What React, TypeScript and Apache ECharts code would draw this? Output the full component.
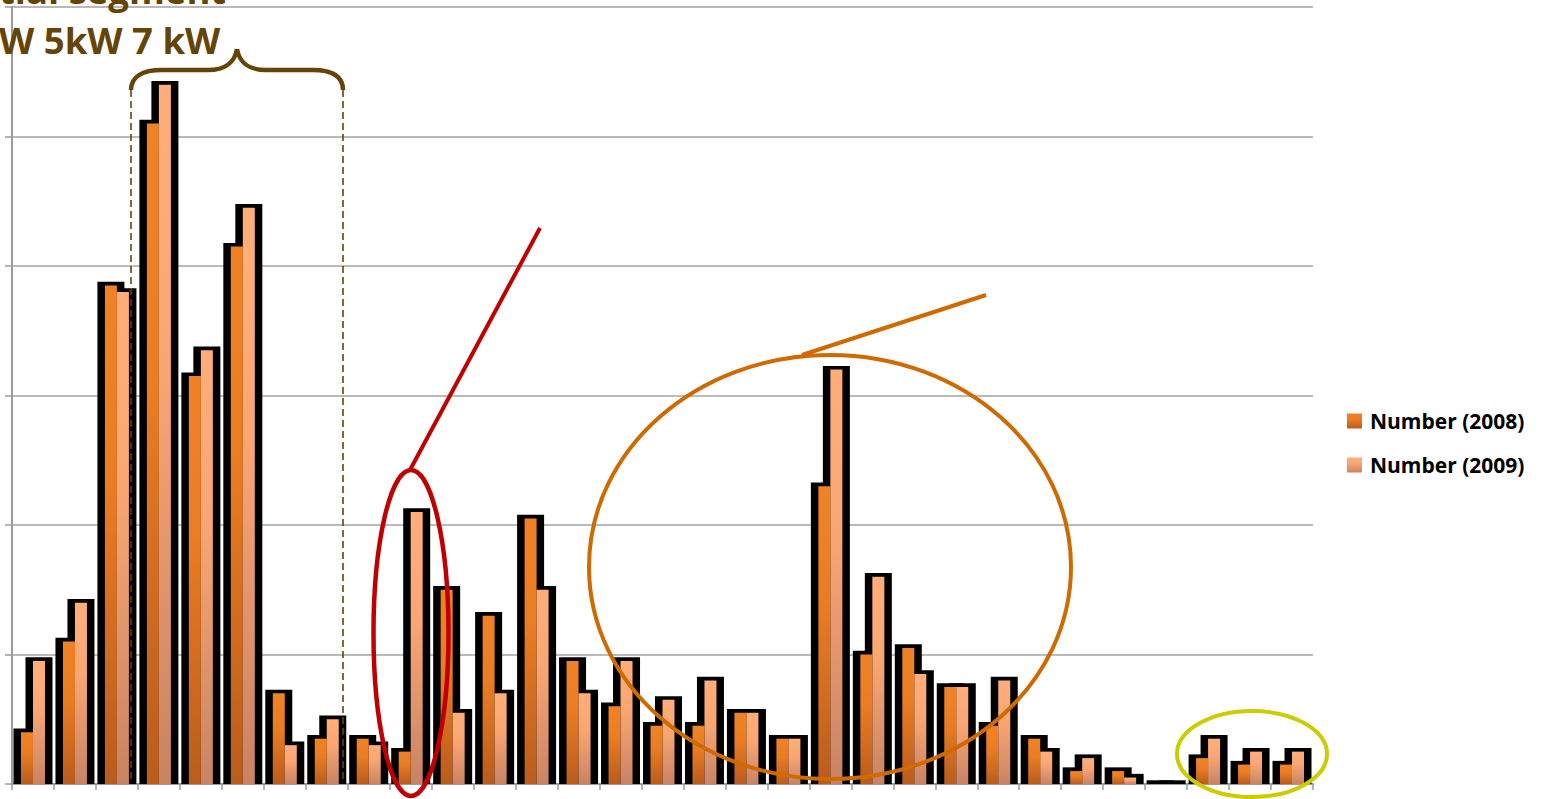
import React, { useEffect, useRef } from "react";
import * as echarts from "echarts";

const categories = ["1", "2", "3", "4", "5", "6", "7", "8", "9", "10", "11", "12", "13", "14", "15", "16", "17", "18", "19", "20", "21", "22", "23", "24", "25", "26", "27", "28", "29", "30", "31"];
const values2008 = [8, 22, 77, 102, 63, 83, 14, 7, 7, 5, 30, 26, 41, 19, 12, 9, 9, 11, 7, 46, 20, 21, 15, 9, 7, 2, 2, 0, 4, 3, 3];
const values2009 = [19, 28, 76, 108, 67, 89, 6, 10, 6, 42, 11, 14, 30, 14, 19, 13, 16, 11, 7, 64, 32, 17, 15, 16, 5, 4, 1, 0, 7, 5, 5];
const seriesNames = ["Number (2008)", "Number (2009)"];
const yTicks = [0, 20, 40, 60, 80, 100, 120];

const BAR_W = 12;
const GLOW_SIDE = 7.5;
const GLOW_TOP = 3.7;
const BROWN = "#654407";

export default function App() {
  const ref = useRef<HTMLDivElement>(null);
  useEffect(() => {
    if (!ref.current) return;
    const chart = echarts.init(ref.current, undefined, { renderer: "svg" });
    const grad2008 = new echarts.graphic.LinearGradient(0, 0, 0, 1, [
      { offset: 0, color: "#F08226" },
      { offset: 0.4, color: "#EA7C23" },
      { offset: 1, color: "#BA5C1C" },
    ]);
    const grad2009 = new echarts.graphic.LinearGradient(0, 0, 0, 1, [
      { offset: 0, color: "#FFAE7A" },
      { offset: 0.4, color: "#F9A673" },
      { offset: 1, color: "#C98363" },
    ]);
    const glowData = categories.map((c, i) => [i, values2008[i], values2009[i]]);

    const option: any = {
      animation: false,
      backgroundColor: "#ffffff",
      grid: { left: 12, right: 231, top: 7, bottom: 15, containLabel: false },
      legend: {
        data: seriesNames,
        orient: "vertical",
        left: 1347,
        top: 410,
        padding: 0,
        itemWidth: 15,
        itemHeight: 15,
        itemGap: 22,
        icon: "rect",
        textStyle: {
          fontFamily: "Open Sans",
          fontWeight: "bold",
          fontSize: 21,
          color: "#000",
          lineHeight: 22,
          padding: [0, 0, 0, 3],
        },
      },
      xAxis: {
        type: "category",
        data: categories,
        boundaryGap: true,
        axisLine: { show: true, lineStyle: { color: "#9C9C9C", width: 2 } },
        axisTick: { show: true, length: 6, lineStyle: { color: "#9C9C9C", width: 1.5 } },
        axisLabel: { show: false },
        splitLine: { show: false },
      },
      yAxis: {
        type: "value",
        min: yTicks[0],
        max: yTicks[yTicks.length - 1],
        interval: yTicks[1] - yTicks[0],
        axisLine: { show: true, lineStyle: { color: "#9C9C9C", width: 2 } },
        axisTick: { show: true, length: 7, lineStyle: { color: "#9C9C9C", width: 1.5 } },
        axisLabel: { show: false },
        splitLine: { show: true, lineStyle: { color: "#A3A3A3", width: 1.5 } },
      },
      series: [
        {
          type: "custom",
          name: "glow",
          z: 1,
          silent: true,
          encode: { x: 0, y: [1, 2] },
          data: glowData,
          renderItem: (params: any, api: any) => {
            const idx = api.value(0);
            const base = api.coord([idx, 0]);
            const t1 = api.coord([idx, api.value(1)]);
            const t2 = api.coord([idx, api.value(2)]);
            const cx = base[0];
            return {
              type: "group",
              children: [
                {
                  type: "rect",
                  shape: { x: cx - BAR_W - GLOW_SIDE, y: t1[1] - GLOW_TOP, width: BAR_W + 2 * GLOW_SIDE, height: base[1] - t1[1] + GLOW_TOP },
                  style: { fill: "#000" },
                },
                {
                  type: "rect",
                  shape: { x: cx - GLOW_SIDE, y: t2[1] - GLOW_TOP, width: BAR_W + 2 * GLOW_SIDE, height: base[1] - t2[1] + GLOW_TOP },
                  style: { fill: "#000" },
                },
              ],
            };
          },
        },
        {
          type: "bar",
          name: seriesNames[0],
          z: 2,
          data: values2008,
          barWidth: BAR_W,
          barGap: "0%",
          itemStyle: { color: grad2008 },
        },
        {
          type: "bar",
          name: seriesNames[1],
          z: 2,
          data: values2009,
          barWidth: BAR_W,
          barGap: "0%",
          itemStyle: { color: grad2009 },
        },
      ],
      graphic: [
        {
          type: "text",
          z: 100,
          x: -1,
          y: -10,
          style: { text: "tial segment", fontFamily: "Open Sans", fontWeight: "bold", fontSize: 36.5, fill: BROWN, verticalAlign: "middle", align: "left" },
        },
        {
          type: "text",
          z: 100,
          x: -1,
          y: 40,
          style: { text: "W 5kW 7 kW", fontFamily: "Open Sans", fontWeight: "bold", fontSize: 36.5, fill: BROWN, verticalAlign: "middle", align: "left" },
        },
        // brace
        { type: "bezierCurve", z: 100, shape: { x1: 131, y1: 90, cpx1: 131, cpy1: 77, cpx2: 142, cpy2: 70, x2: 162, y2: 70 }, style: { stroke: BROWN, lineWidth: 4.5, fill: "none" } },
        { type: "line", z: 100, shape: { x1: 162, y1: 70, x2: 208, y2: 70 }, style: { stroke: BROWN, lineWidth: 4.5 } },
        { type: "bezierCurve", z: 100, shape: { x1: 208, y1: 70, cpx1: 225, cpy1: 70, cpx2: 235, cpy2: 62, x2: 237, y2: 49 }, style: { stroke: BROWN, lineWidth: 4.5, fill: "none" } },
        { type: "bezierCurve", z: 100, shape: { x1: 237, y1: 49, cpx1: 239, cpy1: 62, cpx2: 249, cpy2: 70, x2: 266, y2: 70 }, style: { stroke: BROWN, lineWidth: 4.5, fill: "none" } },
        { type: "line", z: 100, shape: { x1: 266, y1: 70, x2: 313, y2: 70 }, style: { stroke: BROWN, lineWidth: 4.5 } },
        { type: "bezierCurve", z: 100, shape: { x1: 313, y1: 70, cpx1: 333, cpy1: 70, cpx2: 343, cpy2: 77, x2: 343, y2: 90 }, style: { stroke: BROWN, lineWidth: 4.5, fill: "none" } },
        // dashed guides
        { type: "line", z: 100, shape: { x1: 131, y1: 90, x2: 131, y2: 783 }, style: { stroke: BROWN, lineWidth: 1.6, lineDash: [7, 4] } },
        { type: "line", z: 100, shape: { x1: 343, y1: 90, x2: 343, y2: 783 }, style: { stroke: BROWN, lineWidth: 1.6, lineDash: [7, 4] } },
        // red ellipse + pointer
        { type: "ellipse", z: 100, shape: { cx: 411, cy: 633, rx: 37.5, ry: 163 }, style: { stroke: "#C00000", lineWidth: 4.5, fill: "none" } },
        { type: "line", z: 100, shape: { x1: 410, y1: 470, x2: 540, y2: 228 }, style: { stroke: "#C00000", lineWidth: 4 } },
        // orange ellipse + pointer
        { type: "ellipse", z: 100, shape: { cx: 830, cy: 567, rx: 241, ry: 212 }, style: { stroke: "#CF6A00", lineWidth: 4, fill: "none" } },
        { type: "line", z: 100, shape: { x1: 802, y1: 355, x2: 986, y2: 295 }, style: { stroke: "#CF6A00", lineWidth: 4 } },
        // yellow ellipse
        { type: "ellipse", z: 100, shape: { cx: 1252, cy: 754, rx: 75, ry: 43 }, style: { stroke: "#CCCC00", lineWidth: 4, fill: "none" } },
      ],
    };
    chart.setOption(option);
    return () => chart.dispose();
  }, []);
  return (
    <div
      ref={ref}
      style={{ position: "absolute", left: 0, top: 0, width: 1544, height: 799, background: "#fff" }}
    />
  );
}
